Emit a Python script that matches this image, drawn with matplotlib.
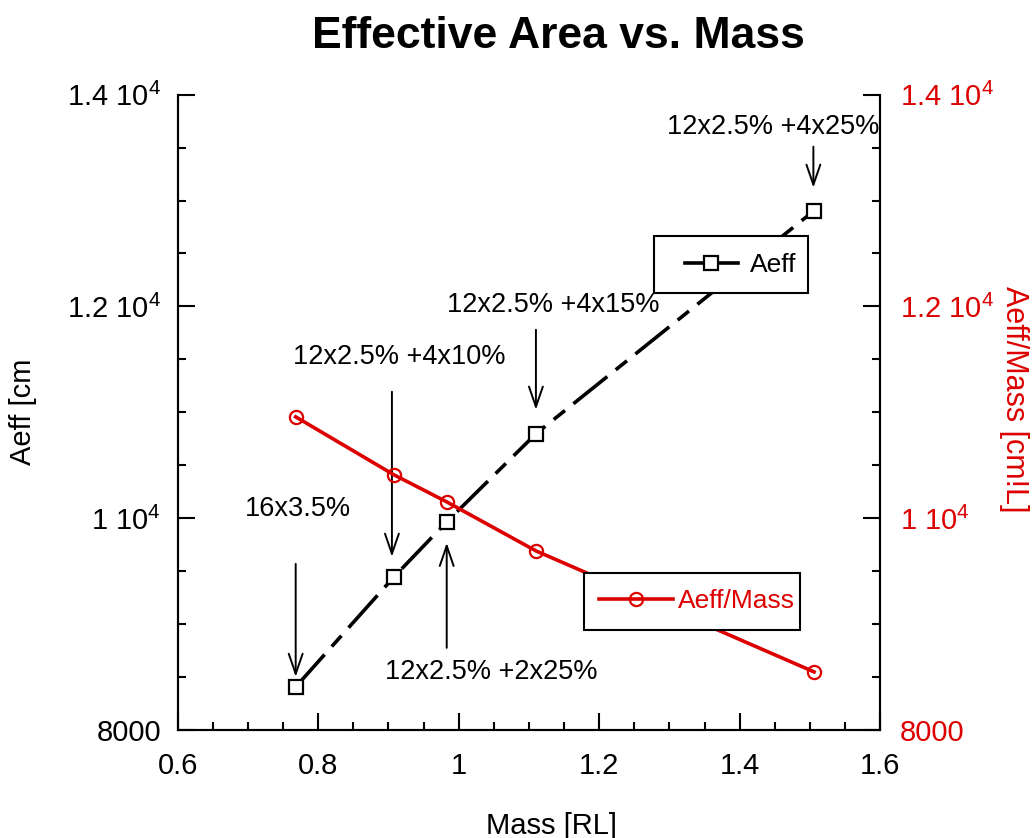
import matplotlib
matplotlib.use('Agg')
import matplotlib.pyplot as plt
from matplotlib.lines import Line2D
from matplotlib.patches import Rectangle
from matplotlib.ticker import MultipleLocator, FixedLocator

plt.rcParams['font.family'] = ['Liberation Sans', 'DejaVu Sans']
plt.rcParams['mathtext.fontset'] = 'custom'
plt.rcParams['mathtext.rm'] = 'Liberation Sans'

# data
mass = [0.768, 0.908, 0.983, 1.110, 1.506]
aeff = [8406, 9446, 9965, 10797, 12904]
aeff_per_mass = [10957, 10409, 10154, 9691, 8548]

y_ticks = [8000, 10000, 12000, 14000]
y_tick_labels = ['8000', r'1 10$^4$', r'1.2 10$^4$', r'1.4 10$^4$']
x_ticks = [0.6, 0.8, 1.0, 1.2, 1.4, 1.6]
x_tick_labels = ['0.6', '0.8', '1', '1.2', '1.4', '1.6']

# configuration labels: (text, text x, text y, arrow tail y, arrow tip y, arrow x)
notes = [
    ('16x3.5%', 0.771, 10088, 9568, 8501, 0.768),
    ('12x2.5% +4x10%', 0.916, 11524, 11194, 9635, 0.905),
    ('12x2.5% +2x25%', 1.047, 8548, 8775, 9767, 0.983),
    ('12x2.5% +4x15%', 1.134, 12016, 11779, 11024, 1.110),
    ('12x2.5% +4x25%', 1.448, 13698, 13509, 13121, 1.505),
]

red = '#dd0000'
lw = 2.6

fig = plt.figure(figsize=(10.33, 8.38), dpi=100)
ax = fig.add_axes([0.172, 0.129, 0.680, 0.758])
ax2 = ax.twinx()

ax.plot(mass, aeff, color='black', lw=lw, marker='s', ms=9.5, mfc='white',
        mec='black', mew=1.6, dashes=[12, 3, 4, 3])
ax2.plot(mass, aeff_per_mass, color=red, lw=lw, marker='o', ms=9.5, mfc='none',
         mec=red, mew=1.6)

for a in (ax, ax2):
    a.set_xlim(0.6, 1.6)
    a.set_ylim(8000, 14000)
    a.yaxis.set_major_locator(FixedLocator(y_ticks))
    a.yaxis.set_minor_locator(MultipleLocator(500))
    a.spines['top'].set_visible(False)
    for s in a.spines.values():
        s.set_linewidth(1.5)

ax.set_yticklabels(y_tick_labels)
ax2.set_yticklabels(y_tick_labels)
ax.xaxis.set_minor_locator(MultipleLocator(0.05))
ax.set_xticks(x_ticks)
ax.set_xticklabels(x_tick_labels)

ax.tick_params(axis='both', which='major', direction='in', length=12, width=1.5,
               labelsize=21)
ax.tick_params(axis='x', pad=16, top=False)
ax.tick_params(axis='y', pad=12, left=True, right=False)
ax.tick_params(axis='both', which='minor', direction='in', length=6, width=1.5)
ax2.tick_params(axis='y', which='major', direction='in', length=12, width=1.5,
                labelsize=21, labelcolor=red, pad=14)
ax2.tick_params(axis='y', which='minor', direction='in', length=6, width=1.5)

for txt, tx, ty, y0, y1, ax_x in notes:
    ax.text(tx, ty, txt, fontsize=19.5, ha='center', va='center')
    ax.annotate('', xy=(ax_x, y1), xytext=(ax_x, y0),
                arrowprops=dict(arrowstyle='->,head_length=1.45,head_width=0.5',
                                color='black', lw=1.4, shrinkA=0, shrinkB=0))

# legend boxes (opaque white with black frame), as in the original
ax.add_patch(Rectangle((0.678, 0.688), 0.219, 0.090, transform=ax.transAxes,
                       facecolor='white', edgecolor='black', lw=1.5, zorder=4))
ax2.add_patch(Rectangle((0.578, 0.157), 0.308, 0.090, transform=ax2.transAxes,
                        facecolor='white', edgecolor='black', lw=1.5, zorder=4))

h1 = Line2D([], [], color='black', lw=lw, marker='s', ms=9.5, mfc='white',
            mec='black', mew=1.6)
h2 = Line2D([], [], color=red, lw=lw, marker='o', ms=9.5, mfc='none',
            mec=red, mew=1.6)
leg1 = ax.legend([h1], ['Aeff'], loc='center left', bbox_to_anchor=(0.722, 0.732),
                 fontsize=19, frameon=False, handlelength=2.0, handletextpad=0.45,
                 borderpad=0, borderaxespad=0)
leg1.set_zorder(6)
leg2 = ax2.legend([h2], ['Aeff/Mass'], loc='center left', bbox_to_anchor=(0.600, 0.203),
                  fontsize=19, frameon=False, handlelength=2.8, handletextpad=0.2,
                  borderpad=0, borderaxespad=0)
leg2.set_zorder(6)
for t in leg2.get_texts():
    t.set_color(red)

fig.text(0.534, 0.005, 'Mass [RL]', fontsize=21, ha='center', va='baseline')
fig.text(0.022, 0.508, 'Aeff [cm', rotation=90, fontsize=21, ha='center', va='center')
fig.text(0.982, 0.523, 'Aeff/Mass [cm!L]', rotation=-90, fontsize=22, color=red,
         ha='center', va='center')
fig.text(0.541, 0.943, 'Effective Area vs. Mass', fontsize=32, fontweight='bold',
         ha='center', va='baseline')

fig.savefig('out.png', dpi=100)
